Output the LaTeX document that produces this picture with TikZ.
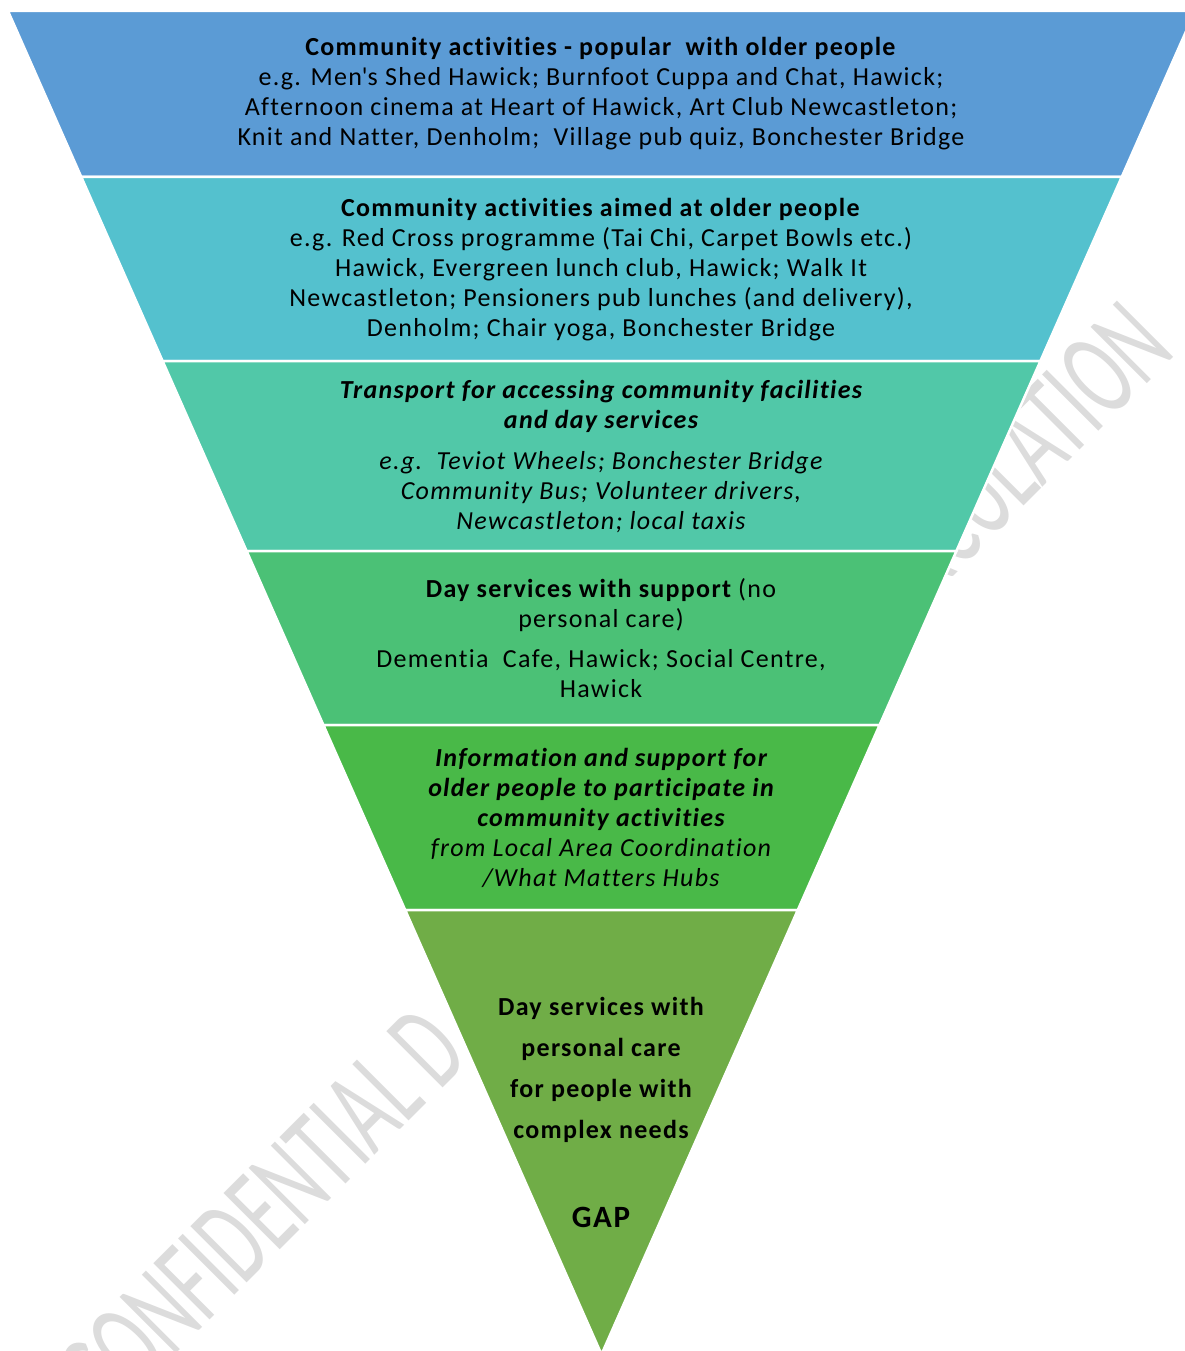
\documentclass[tikz,border=0pt]{standalone}
\usepackage{fontspec}
\setmainfont{Carlito}[LetterSpace=5, Ligatures={TeX,NoCommon}]
\newfontfamily\wmfont{Carlito}
\definecolor{cA}{HTML}{5B9BD5}
\definecolor{cB}{HTML}{54C1CE}
\definecolor{cC}{HTML}{51C8A8}
\definecolor{cD}{HTML}{4BC176}
\definecolor{cE}{HTML}{49B948}
\definecolor{cF}{HTML}{70AD47}
\definecolor{wm}{HTML}{DCDCDC}
\begin{document}
\begin{tikzpicture}[x=1pt,y=-1pt,
  layer/.style={draw=white, line width=2.5pt, line join=miter},
  lbl/.style={align=center, inner sep=0pt, text=black, font=\fontsize{26}{30}\selectfont},
  wmark/.style={text=wm, inner sep=0pt, rotate=45, xscale=0.6, font=\wmfont\fontsize{124}{124}\selectfont}]
\useasboundingbox (0,0) rectangle (1185,1351);
% watermark (behind the triangle)
\begin{scope}
\clip (0,0) rectangle (1185,1351);
\node[wmark, anchor=base east] (wmB) at (1177,353) {CIRCULATION};
\node[wmark, anchor=base east] (wmA) at (471.5,1058.5) {CONFIDENTIAL D};
\end{scope}
% layers
\path[layer, fill=cA] (8,11) -- (1195,11) -- (1121.7,177) -- (81.3,177) -- cycle;
\path[layer, fill=cB] (81.3,177) -- (1121.7,177) -- (1040.4,361) -- (162.6,361) -- cycle;
\path[layer, fill=cC] (162.6,361) -- (1040.4,361) -- (956.4,551) -- (246.6,551) -- cycle;
\path[layer, fill=cD] (246.6,551) -- (956.4,551) -- (879.6,725) -- (323.4,725) -- cycle;
\path[layer, fill=cE] (323.4,725) -- (879.6,725) -- (797.8,910) -- (405.2,910) -- cycle;
\path[layer, fill=cF] (405.2,910) -- (797.8,910) -- (601.5,1354.4) -- cycle;
% texts
\node[lbl] (t1) at (601,94) {\textbf{Community activities - popular\ \ with older people}\\
e.g. Men\textquotesingle s Shed Hawick; Burnfoot Cuppa and Chat, Hawick;\\
Afternoon cinema at Heart of Hawick, Art Club Newcastleton;\\
Knit and Natter, Denholm;\ \ Village pub quiz, Bonchester Bridge};
\node[lbl] (t2) at (601,270) {\textbf{Community activities aimed at older people}\\
e.g. Red Cross programme (Tai Chi, Carpet Bowls etc.)\\
Hawick, Evergreen lunch club, Hawick; Walk It\\
Newcastleton; Pensioners pub lunches (and delivery),\\
Denholm; Chair yoga, Bonchester Bridge};
\node[lbl] (t3) at (601,456.5) {{\bfseries\itshape Transport for accessing community facilities}\\
{\bfseries\itshape and day services}\\[11pt]
{\itshape e.g.\ \ Teviot Wheels; Bonchester Bridge}\\
{\itshape Community Bus; Volunteer drivers,}\\
{\itshape Newcastleton; local taxis}};
\node[lbl] (t4) at (601,638.5) {{\bfseries Day services with support} (no\\
personal care)\\[10pt]
Dementia\ \ Cafe, Hawick; Social Centre,\\
Hawick};
\node[lbl] (t5) at (601,818) {{\bfseries\itshape Information and support for}\\
{\bfseries\itshape older people to participate in}\\
{\bfseries\itshape community activities}\\
{\itshape from Local Area Coordination}\\
{\itshape /What Matters Hubs}};
\node[lbl, font=\fontsize{26}{41}\selectfont\bfseries] (t6) at (601,1070) {Day services with\\
personal care\\
for people with\\
complex needs};
\node[lbl, font=\fontsize{31}{31}\selectfont\bfseries] (gap) at (601,1217) {GAP};
\end{tikzpicture}
\end{document}
